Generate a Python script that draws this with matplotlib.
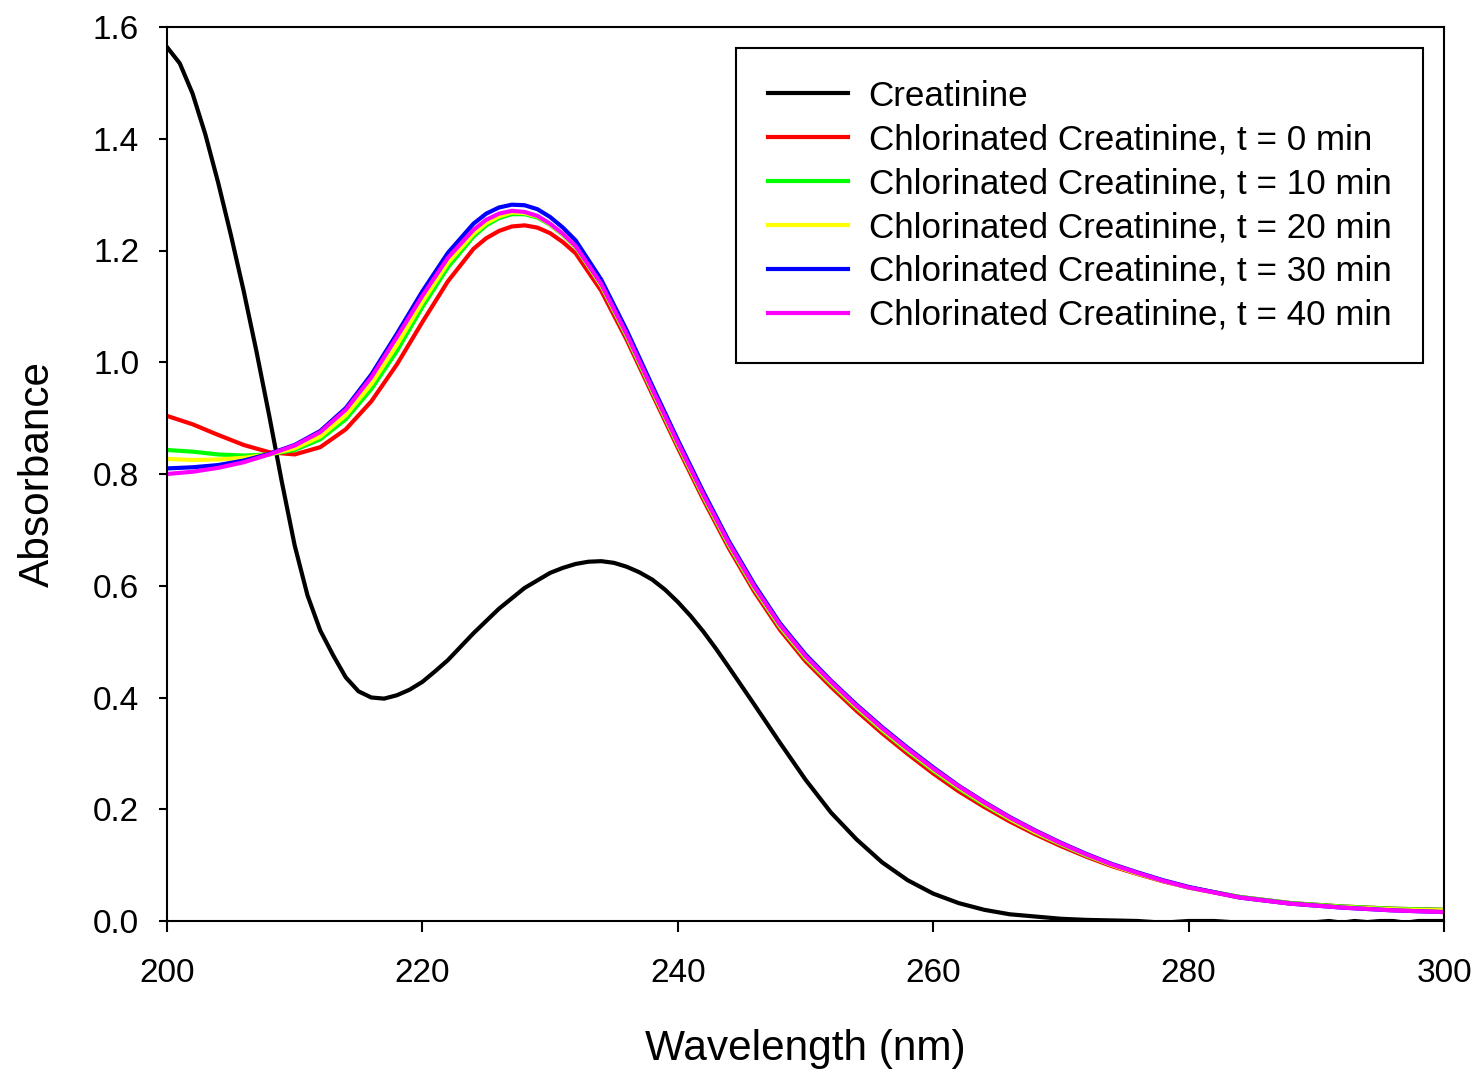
import matplotlib
matplotlib.use("Agg")
import matplotlib.pyplot as plt

plt.rcParams['font.family'] = ['Liberation Sans', 'DejaVu Sans']

# ---- data ----
wl_black = [200, 201, 202, 203, 204, 205, 206, 207, 208, 209, 210, 211, 212, 213, 214,
            215, 216, 217, 218, 219, 220, 221, 222, 224, 226, 228, 230, 231, 232, 233,
            234, 235, 236, 237, 238, 239, 240, 241, 242, 243, 244, 246, 248, 250, 252,
            254, 256, 258, 260, 262, 264, 266, 268, 270, 272, 274, 276, 278, 280, 282,
            284, 286, 288, 290, 291, 292, 293, 294, 295, 296, 297, 298, 299, 300]
creatinine = [1.564, 1.535, 1.481, 1.408, 1.322, 1.228, 1.128, 1.020, 0.905, 0.785, 0.672,
              0.583, 0.520, 0.476, 0.436, 0.411, 0.400, 0.398, 0.404, 0.414, 0.428, 0.447,
              0.467, 0.515, 0.559, 0.596, 0.623, 0.632, 0.639, 0.643, 0.644, 0.641, 0.634,
              0.624, 0.611, 0.593, 0.571, 0.546, 0.518, 0.487, 0.454, 0.387, 0.319, 0.253,
              0.194, 0.146, 0.105, 0.073, 0.049, 0.032, 0.020, 0.012, 0.008, 0.004, 0.002,
              0.001, 0.000, -0.003, 0.000, 0.000, -0.003, -0.004, -0.004, -0.002, 0.000,
              -0.003, 0.000, -0.002, 0.000, 0.000, -0.003, 0.000, 0.000, 0.000]

wl = [200, 202, 204, 206, 208, 210, 212, 214, 216, 218, 220, 222, 224, 225, 226, 227, 228,
      229, 230, 231, 232, 234, 236, 238, 240, 242, 244, 246, 248, 250, 252, 254, 256, 258,
      260, 262, 264, 266, 268, 270, 272, 274, 276, 278, 280, 284, 288, 292, 296, 300]

t0 = [0.904, 0.889, 0.870, 0.852, 0.839, 0.835, 0.848, 0.880, 0.930, 0.996, 1.072, 1.145,
      1.203, 1.222, 1.235, 1.243, 1.245, 1.241, 1.231, 1.215, 1.195, 1.128, 1.040, 0.943,
      0.847, 0.754, 0.667, 0.589, 0.521, 0.465, 0.419, 0.376, 0.336, 0.299, 0.264, 0.232,
      0.204, 0.178, 0.155, 0.134, 0.115, 0.098, 0.084, 0.071, 0.060, 0.043, 0.032, 0.026,
      0.022, 0.020]
t10 = [0.843, 0.840, 0.835, 0.833, 0.835, 0.843, 0.862, 0.898, 0.952, 1.020, 1.099, 1.170,
       1.225, 1.245, 1.258, 1.265, 1.265, 1.259, 1.246, 1.228, 1.206, 1.137, 1.046, 0.948,
       0.852, 0.759, 0.672, 0.594, 0.526, 0.470, 0.424, 0.381, 0.341, 0.304, 0.269, 0.237,
       0.208, 0.182, 0.158, 0.137, 0.117, 0.100, 0.085, 0.072, 0.060, 0.043, 0.032, 0.026,
       0.022, 0.020]
t20 = [0.827, 0.825, 0.826, 0.829, 0.835, 0.846, 0.867, 0.905, 0.961, 1.031, 1.108, 1.178,
       1.230, 1.249, 1.261, 1.268, 1.267, 1.261, 1.247, 1.229, 1.207, 1.138, 1.048, 0.950,
       0.854, 0.761, 0.674, 0.596, 0.528, 0.472, 0.426, 0.383, 0.343, 0.306, 0.271, 0.239,
       0.210, 0.183, 0.159, 0.138, 0.118, 0.100, 0.085, 0.072, 0.060, 0.042, 0.031, 0.025,
       0.021, 0.019]
t30 = [0.810, 0.812, 0.816, 0.824, 0.836, 0.852, 0.877, 0.918, 0.978, 1.051, 1.127, 1.196,
       1.248, 1.266, 1.277, 1.282, 1.281, 1.274, 1.260, 1.241, 1.218, 1.148, 1.057, 0.958,
       0.861, 0.768, 0.680, 0.602, 0.533, 0.477, 0.430, 0.387, 0.347, 0.310, 0.275, 0.242,
       0.213, 0.186, 0.162, 0.140, 0.120, 0.102, 0.087, 0.073, 0.061, 0.042, 0.031, 0.024,
       0.019, 0.016]
t40 = [0.800, 0.804, 0.811, 0.821, 0.835, 0.851, 0.875, 0.915, 0.973, 1.045, 1.119, 1.187,
       1.237, 1.255, 1.266, 1.271, 1.269, 1.262, 1.248, 1.230, 1.208, 1.140, 1.050, 0.952,
       0.856, 0.763, 0.676, 0.598, 0.530, 0.474, 0.428, 0.385, 0.345, 0.308, 0.273, 0.241,
       0.212, 0.185, 0.161, 0.139, 0.119, 0.101, 0.086, 0.072, 0.060, 0.042, 0.031, 0.024,
       0.019, 0.016]

labels = ["Creatinine",
          "Chlorinated Creatinine, t = 0 min",
          "Chlorinated Creatinine, t = 10 min",
          "Chlorinated Creatinine, t = 20 min",
          "Chlorinated Creatinine, t = 30 min",
          "Chlorinated Creatinine, t = 40 min"]
colors = ["#000000", "#ff0000", "#00ff00", "#ffff00", "#0000ff", "#ff00ff"]

x_ticks = [200, 220, 240, 260, 280, 300]
y_ticks = [0.0, 0.2, 0.4, 0.6, 0.8, 1.0, 1.2, 1.4, 1.6]

# ---- figure ----
fig = plt.figure(figsize=(14.76, 10.70), dpi=100)
ax = fig.add_axes([167 / 1476, 1 - 921 / 1070, (1444 - 167) / 1476, (921 - 27) / 1070])

lw = 3.0
ax.plot(wl_black, creatinine, color=colors[0], lw=lw, label=labels[0])
for ys, c, lab in zip([t0, t10, t20, t30, t40], colors[1:], labels[1:]):
    ax.plot(wl, ys, color=c, lw=lw, label=lab)

ax.set_xlim(200, 300)
ax.set_ylim(0, 1.6)
ax.set_xticks(x_ticks)
ax.set_yticks(y_ticks)
ax.set_xticklabels([str(v) for v in x_ticks])
ax.set_yticklabels([f"{v:.1f}" for v in y_ticks])

for s in ax.spines.values():
    s.set_linewidth(1.5)
ax.tick_params(axis='x', direction='out', length=8, width=1.5, labelsize=24, pad=18.5)
ax.tick_params(axis='y', direction='out', length=6, width=1.5, labelsize=24, pad=14)

ax.set_xlabel("Wavelength (nm)", fontsize=30.5, labelpad=29)
ax.set_ylabel("Absorbance", fontsize=30.5, labelpad=25)

leg = ax.legend(loc='upper right', bbox_to_anchor=((1423 - 167) / 1277, (921 - 48) / 894),
                borderaxespad=0, fontsize=25.2, frameon=True, fancybox=False,
                edgecolor='black', framealpha=1, handlelength=2.3, handletextpad=0.58,
                labelspacing=0.31, borderpad=0.9)
leg.get_frame().set_linewidth(1.5)
for h in leg.get_lines():
    h.set_linewidth(lw)

fig.savefig("out.png", dpi=100)
